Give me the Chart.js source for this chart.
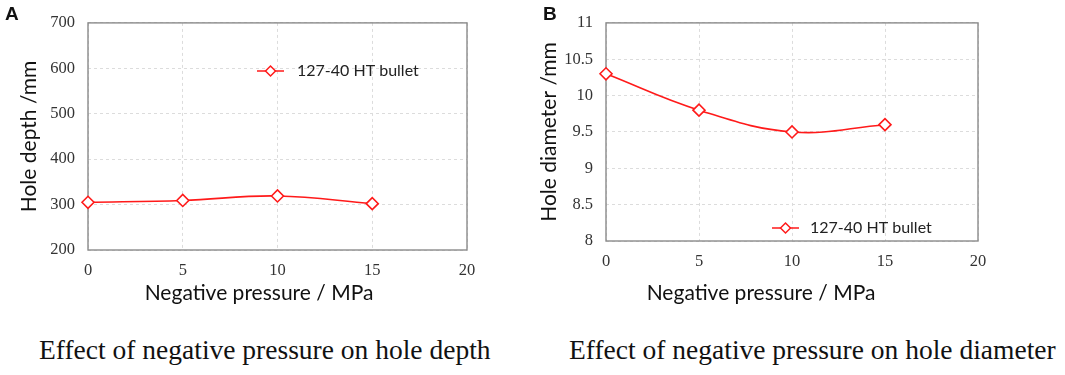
<!DOCTYPE html>
<html lang="en">
<head>
  <meta charset="UTF-8">
  <title>Effect of negative pressure</title>
  <script src="https://cdn.jsdelivr.net/npm/chart.js@4.4.1/dist/chart.umd.min.js"></script>
  <style>
    body {
      margin: 0;
      padding: 0;
      background: #fff;
      width: 1065px;
      height: 375px;
      position: relative;
      overflow: hidden;
    }
    .panel {
      position: absolute;
      top: 0;
      height: 310px;
    }
    .tag {
      position: absolute;
      font-family: "Liberation Sans", Arial, sans-serif;
      font-weight: bold;
      font-size: 19px;
      line-height: 19px;
      color: #111;
    }
    .caption {
      position: absolute;
      top: 336px;
      font-family: "Liberation Serif", "Times New Roman", serif;
      font-size: 27.5px;
      line-height: 27px;
      color: #111;
      white-space: nowrap;
    }
  </style>
</head>
<body>
  <div class="panel" style="left:0;width:520px"><canvas id="chartA"></canvas></div>
  <div class="panel" style="left:520px;width:545px"><canvas id="chartB"></canvas></div>

  <div class="tag" style="left:5px;top:4px">A</div>
  <div class="tag" style="left:543px;top:4px">B</div>

  <div class="caption" style="left:39px">Effect of negative pressure on hole depth</div>
  <div class="caption" style="left:569px">Effect of negative pressure on hole diameter</div>

  <script>
    // dados
    const pressure = [0, 5, 10, 15];
    const holeDepth = [305, 309, 319, 302];
    const holeDiameter = [10.3, 9.8, 9.5, 9.6];
    const seriesLabel = '127-40 HT bullet';
    const xTicks = [0, 5, 10, 15, 20];
    const xTitle = 'Negative pressure / MPa';

    const RED = '#ff1a1a';
    const sansFont = 'Lato, "Open Sans", sans-serif';
    const serifFont = '"Liberation Serif", "Times New Roman", serif';

    // moldura cinza em volta da area do grafico
    const frame = {
      id: 'frame',
      beforeDatasetsDraw(chart) {
        const a = chart.chartArea;
        const ctx = chart.ctx;
        ctx.save();
        ctx.strokeStyle = '#8a8a8a';
        ctx.lineWidth = 1.4;
        ctx.strokeRect(a.left, a.top, a.right - a.left, a.bottom - a.top);
        ctx.restore();
      }
    };

    // titulo do eixo x, um pouco a esquerda do centro como na figura
    const xAxisTitle = {
      id: 'xAxisTitle',
      afterDraw(chart, args, opts) {
        const ctx = chart.ctx;
        ctx.save();
        ctx.fillStyle = '#111';
        ctx.font = '21px ' + sansFont;
        ctx.textAlign = 'center';
        ctx.textBaseline = 'alphabetic';
        ctx.fillText(opts.text, opts.x, opts.y);
        ctx.restore();
      }
    };

    // legenda desenhada dentro da area do grafico
    const innerLegend = {
      id: 'innerLegend',
      afterDatasetsDraw(chart, args, opts) {
        const ds = chart.data.datasets[0];
        const ctx = chart.ctx;
        const x = opts.x, y = opts.y;
        ctx.save();
        ctx.strokeStyle = ds.borderColor;
        ctx.lineWidth = 1.5;
        ctx.beginPath();
        ctx.moveTo(x, y);
        ctx.lineTo(x + 27, y);
        ctx.stroke();
        ctx.fillStyle = '#fff';
        ctx.beginPath();
        ctx.moveTo(x + 8.5, y);
        ctx.lineTo(x + 13.5, y - 5);
        ctx.lineTo(x + 18.5, y);
        ctx.lineTo(x + 13.5, y + 5);
        ctx.closePath();
        ctx.fill();
        ctx.stroke();
        ctx.fillStyle = '#222';
        ctx.font = '16px ' + sansFont;
        ctx.textBaseline = 'middle';
        ctx.fillText(ds.label, opts.textX, y);
        ctx.restore();
      }
    };

    function makeChart(id, values, cfg) {
      const ctx = document.getElementById(id).getContext('2d');
      return new Chart(ctx, {
        type: 'line',
        data: {
          datasets: [{
            label: seriesLabel,
            data: pressure.map((p, i) => ({ x: p, y: values[i] })),
            borderColor: RED,
            borderWidth: 1.6,
            backgroundColor: '#fff',
            pointStyle: 'rectRot',
            pointRadius: 6,
            pointBorderWidth: 1.6,
            pointBackgroundColor: '#fff',
            pointBorderColor: RED,
            tension: 0.4,
            clip: false
          }]
        },
        options: {
          responsive: true,
          maintainAspectRatio: false,
          animation: false,
          layout: { padding: { top: cfg.top, right: cfg.right, left: 0, bottom: 0 } },
          plugins: {
            legend: { display: false },
            tooltip: { enabled: false },
            innerLegend: cfg.legend,
            xAxisTitle: { text: xTitle, x: cfg.titleX, y: 300 }
          },
          scales: {
            x: {
              type: 'linear',
              min: 0,
              max: 20,
              afterBuildTicks: s => { s.ticks = xTicks.map(v => ({ value: v })); },
              afterFit: s => { s.height = cfg.xHeight; },
              grid: { color: '#dcdcdc', lineWidth: 1, drawTicks: false },
              border: { display: false, dash: [3, 3] },
              ticks: {
                padding: 11,
                color: '#333',
                font: { family: serifFont, size: 16.5 }
              }
            },
            y: {
              min: cfg.yMin,
              max: cfg.yMax,
              afterFit: s => { s.width = cfg.yWidth; },
              grid: { color: '#dcdcdc', lineWidth: 1, drawTicks: false },
              border: { display: false, dash: [3, 3] },
              ticks: {
                stepSize: cfg.step,
                padding: 13,
                color: '#333',
                font: { family: serifFont, size: 16.5 },
                callback: v => String(Math.round(v * 10) / 10)
              },
              title: {
                display: true,
                text: cfg.yTitle,
                color: '#111',
                font: { family: sansFont, size: 21 },
                padding: { top: 17, bottom: 0 }
              }
            }
          }
        },
        plugins: [frame, innerLegend, xAxisTitle]
      });
    }

    makeChart('chartA', holeDepth, {
      top: 17, right: 53, yWidth: 88, xHeight: 60,
      yMin: 200, yMax: 700, step: 100,
      yTitle: 'Hole depth /mm',
      titleX: 259,
      legend: { x: 257, y: 71, textX: 297 }
    });

    makeChart('chartB', holeDiameter, {
      top: 18, right: 87, yWidth: 86, xHeight: 69,
      yMin: 8, yMax: 11, step: 0.5,
      yTitle: 'Hole diameter /mm',
      titleX: 241,
      legend: { x: 252, y: 228, textX: 290 }
    });
  </script>
</body>
</html>
